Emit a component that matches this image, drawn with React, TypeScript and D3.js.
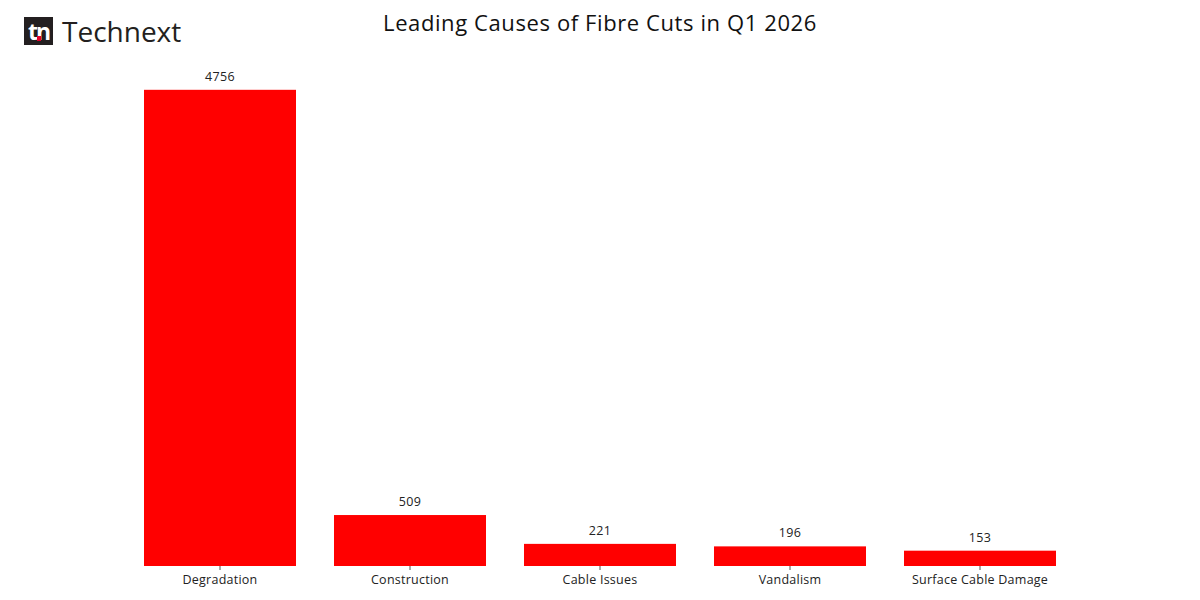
import { useEffect, useRef } from "react";
import * as d3 from "d3";

const causes = ["Degradation", "Construction", "Cable Issues", "Vandalism", "Surface Cable Damage"];
const cuts = [4756, 509, 221, 196, 153];
const chartTitle = "Leading Causes of Fibre Cuts in Q1 2026";

export default function App() {
  const svgRef = useRef<SVGSVGElement>(null);

  useEffect(() => {
    if (!svgRef.current) return;
    const W = 1200, H = 600;
    const svg = d3.select(svgRef.current);
    svg.selectAll("*").remove();
    svg.attr("width", W).attr("height", H);

    const font = "'Open Sans', 'Noto Sans', sans-serif";
    const data = causes.map((c, i) => ({ cause: c, value: cuts[i] }));

    // scales
    const x = d3.scaleBand<string>()
      .domain(causes)
      .range([125, 1075])
      .paddingInner(0.2)
      .paddingOuter(0.1);
    const y = d3.scaleLinear()
      .domain([0, d3.max(cuts)! * 1.05])
      .range([566, 66]);

    svg.append("rect").attr("width", W).attr("height", H).attr("fill", "#fff");

    // bars
    svg.selectAll("rect.bar")
      .data(data)
      .enter()
      .append("rect")
      .attr("class", "bar")
      .attr("x", d => x(d.cause)!)
      .attr("y", d => y(d.value))
      .attr("width", x.bandwidth())
      .attr("height", d => y(0) - y(d.value))
      .attr("fill", "#ff0000");

    // value labels
    svg.selectAll("text.val")
      .data(data)
      .enter()
      .append("text")
      .attr("x", d => x(d.cause)! + x.bandwidth() / 2)
      .attr("y", d => y(d.value) - 9)
      .attr("text-anchor", "middle")
      .attr("font-family", font)
      .attr("font-size", 12.5)
      .attr("letter-spacing", 0.3)
      .attr("fill", "#222")
      .text(d => d.value);

    // x axis: ticks only, no spine
    const gx = svg.append("g")
      .attr("transform", `translate(0,${y(0)})`)
      .call(d3.axisBottom(x).tickSize(4).tickPadding(5));
    gx.select(".domain").remove();
    gx.selectAll("line").attr("stroke", "#555").attr("stroke-width", 1);
    gx.selectAll("text")
      .attr("fill", "#222")
      .attr("font-size", 12.5)
      .attr("letter-spacing", 0.25)
      .attr("font-family", font);

    // title
    svg.append("text")
      .attr("x", 600)
      .attr("y", 31)
      .attr("text-anchor", "middle")
      .attr("font-family", font)
      .attr("font-size", 22)
      .attr("letter-spacing", 0.6)
      .attr("fill", "#111")
      .text(chartTitle);

    // logo
    const logo = svg.append("g").attr("transform", "translate(24,17)");
    logo.append("rect").attr("width", 29).attr("height", 28).attr("fill", "#231f20");
    logo.append("text")
      .attr("x", 14.5)
      .attr("y", 23)
      .attr("text-anchor", "middle")
      .attr("font-family", font)
      .attr("font-weight", "bold")
      .attr("font-size", 23)
      .attr("letter-spacing", -2)
      .attr("fill", "#fff")
      .text("tn");
    logo.append("rect").attr("x", 13).attr("y", 19).attr("width", 4).attr("height", 5).attr("fill", "#e4002b");
    svg.append("text")
      .attr("x", 62)
      .attr("y", 42)
      .attr("font-family", font)
      .attr("font-size", 28)
      .attr("fill", "#231f20")
      .text("Technext");
  }, []);

  return <svg ref={svgRef} style={{ display: "block", margin: -8 }} />;
}
